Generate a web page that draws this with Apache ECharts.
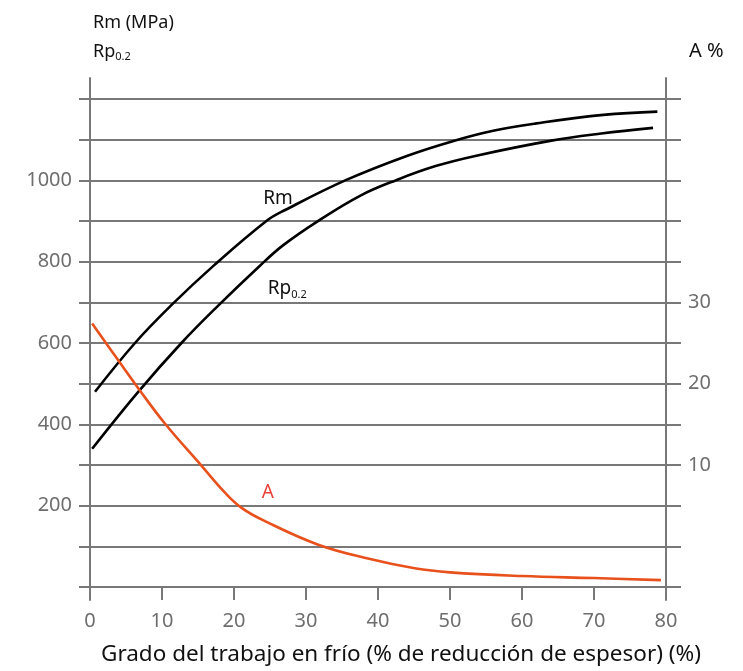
<!DOCTYPE html>
<html>
<head>
<meta charset="utf-8">
<script src="https://cdn.jsdelivr.net/npm/echarts@6/dist/echarts.min.js"></script>
<style>html,body{margin:0;padding:0;background:#fff}#c{width:743px;height:671px}</style>
</head>
<body>
<div id="c"></div>
<script>
// Work-hardening data: x = cold work reduction (%)
const rmData = [[0.7,480],[6.25,600],[11.3,693],[17.1,789],[24.5,900],[27.1,927],[35.6,1001],[44,1060],[50.5,1097],[56,1122],[62,1140],[71.3,1161],[78.8,1169]];
const rpData = [[0.3,340],[6.7,480],[12.7,600],[17.7,690],[23.6,790],[26.8,840],[31.5,898],[37.5,962],[42.6,1001],[48,1035],[53.5,1060],[63.9,1097],[71,1115],[78.2,1129]];
const aData  = [[0.3,27.4],[3.9,22.9],[6.9,19.2],[10.4,15.1],[15.5,9.9],[18.75,6.6],[21.1,4.7],[24.3,3.1],[31.7,0.2],[38.6,-1.5],[45.1,-2.7],[50,-3.2],[60,-3.65],[70,-3.9],[79.3,-4.15]];
const xTicks = [0,10,20,30,40,50,60,70,80];
const leftLabels = [200,400,600,800,1000];
const rightLabels = [10,20,30];

const FONT = 'Noto Sans';
const GRAY = '#787878';
const LBL = '#6e6e6e';
const INK = '#111';

const chart = echarts.init(document.getElementById('c'), null, {renderer:'canvas'});
chart.setOption({
  animation:false,
  backgroundColor:'#fff',
  textStyle:{fontFamily:FONT},
  title:[
    {text:'Rm (MPa)', left:88, top:9, textStyle:{fontFamily:FONT,fontSize:18,fontWeight:'normal',color:INK}},
    {text:'{a|Rp}{s|0.2}', left:88, top:36, textStyle:{fontFamily:FONT,fontSize:18,fontWeight:'normal',color:INK,
      rich:{a:{fontFamily:FONT,fontSize:18,color:INK}, s:{fontFamily:FONT,fontSize:11,color:INK,padding:[10,0,0,0]}}}},
    {text:'A %', left:684, top:36, textStyle:{fontFamily:FONT,fontSize:20,fontWeight:'normal',color:INK}}
  ],
  grid:[
    {left:90, right:77, top:99, bottom:84},
    {left:90, right:77, top:78, bottom:71}
  ],
  xAxis:[
    {type:'value', gridIndex:0, min:0, max:80, interval:10,
     name:'Grado del trabajo en frío (% de reducción de espesor) (%)',
     nameLocation:'middle', nameGap:56,
     nameTextStyle:{fontFamily:FONT,fontSize:22.5,color:INK,padding:[0,0,0,46]},
     axisLine:{show:true,lineStyle:{color:GRAY,width:2}},
     axisTick:{show:true,inside:false,length:13,lineStyle:{color:GRAY,width:2}},
     axisLabel:{show:true,margin:24,fontFamily:FONT,fontSize:20,color:LBL,
       formatter:v=>xTicks.includes(v)?String(v):''},
     splitLine:{show:false}},
    {type:'value', gridIndex:1, min:0, max:1, show:false}
  ],
  yAxis:[
    {type:'value', gridIndex:0, position:'left', min:0, max:1200, interval:100,
     axisLine:{show:true,lineStyle:{color:GRAY,width:2}},
     axisTick:{show:true,inside:false,length:11,lineStyle:{color:GRAY,width:2}},
     axisLabel:{show:true,margin:18,fontFamily:FONT,fontSize:20,color:LBL,
       formatter:v=>leftLabels.includes(v)?String(v):''},
     splitLine:{show:true,lineStyle:{color:GRAY,width:2}}},
    {type:'value', gridIndex:0, position:'right', min:-5, max:55, interval:5,
     axisLine:{show:true,lineStyle:{color:GRAY,width:2}},
     axisTick:{show:true,inside:false,length:15,lineStyle:{color:GRAY,width:2}},
     axisLabel:{show:true,margin:22,fontFamily:FONT,fontSize:20,color:LBL,
       formatter:v=>rightLabels.includes(v)?String(v):''},
     splitLine:{show:false}},
    {type:'value', gridIndex:1, position:'left', min:0, max:1,
     axisLine:{show:true,lineStyle:{color:GRAY,width:2}},
     axisTick:{show:false}, axisLabel:{show:false}, splitLine:{show:false}},
    {type:'value', gridIndex:1, position:'right', min:0, max:1,
     axisLine:{show:true,lineStyle:{color:GRAY,width:2}},
     axisTick:{show:false}, axisLabel:{show:false}, splitLine:{show:false}}
  ],
  series:[
    {name:'Rm', type:'line', xAxisIndex:0, yAxisIndex:0, data:rmData, smooth:0.4, symbol:'none',
     lineStyle:{color:'#000',width:2.6},
     markPoint:{symbol:'circle',symbolSize:0,silent:true,
       data:[{coord:[26.1,955],label:{show:true,position:'inside',formatter:'Rm',fontFamily:FONT,fontSize:19,color:INK}}]}},
    {name:'Rp0.2', type:'line', xAxisIndex:0, yAxisIndex:0, data:rpData, smooth:0.4, symbol:'none',
     lineStyle:{color:'#000',width:2.6},
     markPoint:{symbol:'circle',symbolSize:0,silent:true,
       data:[{coord:[27.4,733],label:{show:true,position:'inside',formatter:'{a|Rp}{s|0.2}',
         rich:{a:{fontFamily:FONT,fontSize:19,color:INK},s:{fontFamily:FONT,fontSize:11,color:INK,padding:[11,0,0,0]}}}}]}},
    {name:'A', type:'line', xAxisIndex:0, yAxisIndex:1, data:aData, smooth:0.4, symbol:'none',
     lineStyle:{color:'#e8511c',width:2.6},
     markPoint:{symbol:'circle',symbolSize:0,silent:true,
       data:[{coord:[24.7,6.6],label:{show:true,position:'inside',formatter:'A',fontFamily:FONT,fontSize:19,color:'#e8403a'}}]}}
  ]
});
</script>
</body>
</html>
